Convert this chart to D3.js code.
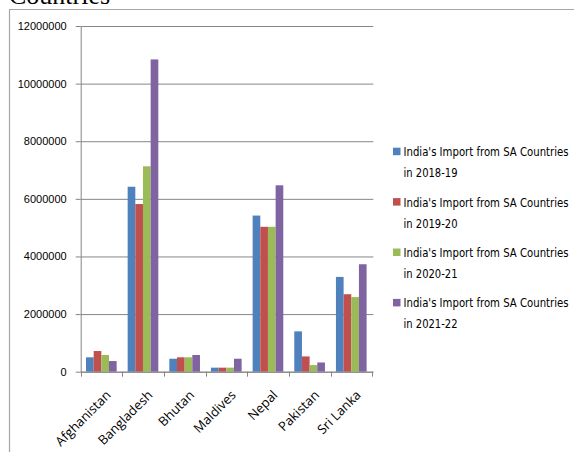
<!DOCTYPE html>
<html>
<head>
<meta charset="utf-8">
<script src="https://cdn.jsdelivr.net/npm/d3@7"></script>
<style>
  body { margin: 0; background: #fff; }
  svg { display: block; }
</style>
</head>
<body>
<div id="chart"></div>
<script>
// data
var categories = ["Afghanistan", "Bangladesh", "Bhutan", "Maldives", "Nepal", "Pakistan", "Sri Lanka"];
var seriesNames = [
    "India's Import from SA Countries in 2018-19",
    "India's Import from SA Countries in 2019-20",
    "India's Import from SA Countries in 2020-21",
    "India's Import from SA Countries in 2021-22"
];
var import2018 = [500000, 6420000, 450000, 140000, 5420000, 1400000, 3290000];
var import2019 = [718000, 5820000, 500000, 140000, 5030000, 530000, 2690000];
var import2020 = [580000, 7130000, 500000, 140000, 5030000, 230000, 2590000];
var import2021 = [370000, 10840000, 580000, 450000, 6470000, 320000, 3730000];
var yTicks = [0, 2000000, 4000000, 6000000, 8000000, 10000000, 12000000];

var colors = ["#4f81bd", "#c0504d", "#9bbb59", "#8064a2"];
var allSeries = [import2018, import2019, import2020, import2021];

var svgWidth = 574;
var svgHeight = 452;

// plot area
var plot = { left: 80.7, right: 372.3, top: 26, bottom: 371.7 };

var svg = d3.select("#chart")
    .append("svg")
    .attr("width", svgWidth)
    .attr("height", svgHeight);

// title fragment cut off at the top
svg.append("text")
    .attr("x", 9)
    .attr("y", 4)
    .style("font-family", "'Liberation Serif', 'Times New Roman', serif")
    .style("font-size", "26px")
    .style("fill", "#000")
    .text("Countries");

// chart border (right side runs past the picture)
svg.append("path")
    .attr("d", "M9.5," + (svgHeight + 1) + "V9.5H" + (svgWidth + 1))
    .attr("fill", "none")
    .attr("stroke", "#a6a6a6")
    .attr("stroke-width", 1.2);

// scales
var x0 = d3.scaleBand()
    .domain(categories)
    .range([plot.left, plot.right])
    .paddingInner(0)
    .paddingOuter(0);

var x1 = d3.scaleBand()
    .domain(d3.range(allSeries.length))
    .range([5.3, x0.bandwidth() - 5.7]);

var y = d3.scaleLinear()
    .domain([0, 12000000])
    .range([plot.bottom, plot.top]);

// gridlines
var grid = svg.append("g")
    .attr("transform", "translate(" + plot.left + ",0)")
    .call(d3.axisLeft(y).tickValues(yTicks).tickSize(-(plot.right - plot.left + 1)).tickFormat(""));
grid.select(".domain").remove();
grid.selectAll("line").attr("stroke", "#868686");

// y axis with outward ticks and labels
var yAxis = svg.append("g")
    .attr("transform", "translate(" + plot.left + ",0)")
    .call(d3.axisLeft(y).tickValues(yTicks).tickSize(5).tickSizeOuter(0).tickPadding(9).tickFormat(d3.format("d")));
yAxis.select(".domain").attr("stroke", "#868686");
yAxis.selectAll("line").attr("stroke", "#868686");
yAxis.selectAll("text")
    .style("font-family", "'Liberation Sans', Arial, sans-serif")
    .style("font-size", "11px")
    .style("fill", "#000");

// bars
var groups = svg.selectAll("g.country")
    .data(categories)
    .enter()
    .append("g")
    .classed("country", true)
    .attr("transform", d => "translate(" + x0(d) + ",0)");

groups.selectAll("rect")
    .data((d, i) => allSeries.map((s, k) => ({ k: k, v: s[i] })))
    .enter()
    .append("rect")
    .attr("x", d => x1(d.k))
    .attr("y", d => y(d.v))
    .attr("width", x1.bandwidth())
    .attr("height", d => y(0) - y(d.v))
    .attr("fill", d => colors[d.k]);

// x axis line and tick marks at category boundaries
var boundaries = categories.map(c => x0(c)).concat([x0(categories[categories.length - 1]) + x0.bandwidth()]);
var xAxis = svg.append("g");
xAxis.append("line")
    .attr("x1", plot.left)
    .attr("x2", plot.right + 1)
    .attr("y1", y(0) + 0.5)
    .attr("y2", y(0) + 0.5)
    .attr("stroke", "#868686");
xAxis.selectAll("line.tick")
    .data(boundaries)
    .enter()
    .append("line")
    .classed("tick", true)
    .attr("x1", d => Math.round(d) + 0.5)
    .attr("x2", d => Math.round(d) + 0.5)
    .attr("y1", y(0))
    .attr("y2", y(0) + 5)
    .attr("stroke", "#868686");

// rotated category labels
xAxis.selectAll("text")
    .data(categories)
    .enter()
    .append("text")
    .attr("transform", d => "translate(" + (x0(d) + x0.bandwidth() / 2 + 7) + "," + (y(0) + 21) + ") rotate(-45)")
    .attr("text-anchor", "end")
    .attr("dy", "0.35em")
    .style("font-family", "'Open Sans', 'DejaVu Sans', sans-serif")
    .style("font-size", "13px")
    .style("fill", "#000")
    .text(d => d);

// legend
var legend = svg.append("g")
    .attr("transform", "translate(393,0)");

var legendRows = legend.selectAll("g")
    .data(seriesNames)
    .enter()
    .append("g")
    .attr("transform", (d, i) => "translate(0," + (151.7 + i * 50.4) + ")");

legendRows.append("rect")
    .attr("x", 0)
    .attr("y", -4)
    .attr("width", 7.5)
    .attr("height", 7.5)
    .attr("fill", (d, i) => colors[i]);

var line1 = legendRows.append("text")
    .attr("x", 10.5)
    .attr("y", 0)
    .attr("dy", "0.35em")
    .style("font-family", "'Liberation Sans Narrow', 'Arial Narrow', 'DejaVu Sans Condensed', sans-serif")
    .style("font-size", "13px")
    .style("fill", "#000")
    .text(d => d.replace(/ in .*$/, ""));

var line2 = legendRows.append("text")
    .attr("x", 10.5)
    .attr("y", 21)
    .attr("dy", "0.35em")
    .style("font-family", "'Liberation Sans Narrow', 'Arial Narrow', 'DejaVu Sans Condensed', sans-serif")
    .style("font-size", "13px")
    .style("fill", "#000")
    .text(d => d.replace(/^.* (in .*)$/, "$1"));

// squeeze legend text only if the narrow font is not there
line1.each(function() {
    if (this.getComputedTextLength() > 167) {
        d3.select(this).attr("textLength", 165).attr("lengthAdjust", "spacingAndGlyphs");
    }
});
line2.each(function() {
    if (this.getComputedTextLength() > 56) {
        d3.select(this).attr("textLength", 54).attr("lengthAdjust", "spacingAndGlyphs");
    }
});
</script>
</body>
</html>
